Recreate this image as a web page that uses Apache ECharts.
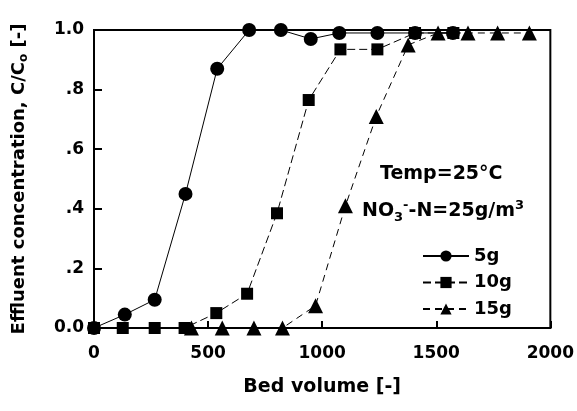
<!DOCTYPE html>
<html>
<head>
<meta charset="utf-8">
<script src="https://cdn.jsdelivr.net/npm/echarts@6/dist/echarts.min.js"></script>
<style>
  html, body { margin: 0; padding: 0; background: #fff; }
  #chart { width: 577px; height: 411px; }
</style>
</head>
<body>
<div id="chart"></div>
<script>
  // bed volume / effluent concentration
  var bv5 = [0, 135, 266, 401, 540, 680, 819, 950, 1075, 1242, 1407, 1573]
  var c5 = [0, 0.045, 0.095, 0.45, 0.87, 1.0, 1.0, 0.97, 0.99, 0.99, 0.99, 0.99]
  var bv10 = [0, 126, 266, 397, 536, 671, 802, 941, 1080, 1242, 1407, 1575]
  var c10 = [0, 0, 0, 0, 0.05, 0.115, 0.385, 0.765, 0.935, 0.935, 0.99, 0.99]
  var bv15 = [427, 562, 701, 826, 971, 1102, 1237, 1377, 1508, 1639, 1769, 1908]
  var c15 = [0, 0, 0, 0, 0.075, 0.41, 0.71, 0.95, 0.99, 0.99, 0.99, 0.99]
  var seriesNames = ['5g', '10g', '15g']
  var yTickLabels = ['0.0', '.2', '.4', '.6', '.8', '1.0']
  var xTickLabels = ['0', '500', '1000', '1500', '2000']

  var font = 'DejaVu Sans'

  function pairs(xs, ys) {
    return xs.map(function (x, i) { return [x, ys[i]] })
  }

  var chart = echarts.init(document.getElementById('chart'))
  chart.setOption({
    animation: false,
    backgroundColor: '#fff',
    grid: {
      left: 94, right: 24, top: 30, bottom: 83,
      show: true, borderColor: '#000', borderWidth: 2
    },
    xAxis: {
      type: 'value',
      min: 0, max: 2000, interval: 500,
      name: 'Bed volume [-]',
      nameLocation: 'middle',
      nameGap: 50,
      nameTextStyle: { fontFamily: font, fontWeight: 'bold', fontSize: 19, color: '#000' },
      axisLine: { lineStyle: { color: '#000', width: 2 } },
      axisTick: { inside: true, length: 7, lineStyle: { color: '#000', width: 2 } },
      axisLabel: {
        margin: 17,
        fontFamily: font, fontWeight: 'bold', fontSize: 17, color: '#000',
        formatter: function (v) { return xTickLabels[Math.round(v / 500)] }
      },
      splitLine: { show: false }
    },
    yAxis: {
      type: 'value',
      min: 0, max: 1, interval: 0.2,
      name: '{a|Effluent concentration, C/C}{s|o}{a| [-]}',
      nameLocation: 'middle',
      nameRotate: 90,
      nameGap: 64,
      nameTextStyle: {
        rich: {
          a: { fontFamily: font, fontWeight: 'bold', fontSize: 18, color: '#000', lineHeight: 22 },
          s: { fontFamily: font, fontWeight: 'bold', fontSize: 12, color: '#000', lineHeight: 12, verticalAlign: 'bottom' }
        }
      },
      axisLine: { lineStyle: { color: '#000', width: 2 } },
      axisTick: { inside: true, length: 8, lineStyle: { color: '#000', width: 2 } },
      axisLabel: {
        margin: 10,
        fontFamily: font, fontWeight: 'bold', fontSize: 17, color: '#000',
        formatter: function (v) { return yTickLabels[Math.round(v / 0.2)] }
      },
      splitLine: { show: false }
    },
    legend: {
      data: seriesNames,
      orient: 'vertical',
      left: 417,
      top: 242,
      itemWidth: 46,
      itemHeight: 14,
      itemGap: 8.5,
      textStyle: { fontFamily: font, fontWeight: 'bold', fontSize: 18, color: '#000', lineHeight: 14 }
    },
    graphic: [
      {
        type: 'text',
        left: 380,
        top: 165,
        style: {
          text: 'Temp=25°C',
          font: 'bold 19px "DejaVu Sans"',
          fill: '#000'
        }
      },
      {
        type: 'text',
        left: 362,
        top: 199,
        style: {
          text: '{a|NO}{s|3}{p|-}{a|-N=25g/m}{p|3}',
          fill: '#000',
          rich: {
            a: { fontFamily: font, fontWeight: 'bold', fontSize: 19, lineHeight: 25, fill: '#000' },
            s: { fontFamily: font, fontWeight: 'bold', fontSize: 13, lineHeight: 13, verticalAlign: 'bottom', fill: '#000' },
            p: { fontFamily: font, fontWeight: 'bold', fontSize: 13, lineHeight: 13, verticalAlign: 'top', fill: '#000' }
          }
        }
      }
    ],
    series: [
      {
        name: '5g', type: 'line', z: 4,
        data: pairs(bv5, c5),
        symbol: 'circle', symbolSize: 14,
        itemStyle: { color: '#000' },
        lineStyle: { color: '#000', width: 1 }
      },
      {
        name: '10g', type: 'line', z: 3,
        data: pairs(bv10, c10),
        symbol: 'rect', symbolSize: 12,
        itemStyle: { color: '#000' },
        lineStyle: { color: '#000', width: 1, type: [8, 4] }
      },
      {
        name: '15g', type: 'line', z: 2,
        data: pairs(bv15, c15),
        symbol: 'triangle', symbolSize: 15,
        itemStyle: { color: '#000' },
        lineStyle: { color: '#000', width: 1, type: [7, 5] }
      }
    ]
  })
</script>
</body>
</html>
